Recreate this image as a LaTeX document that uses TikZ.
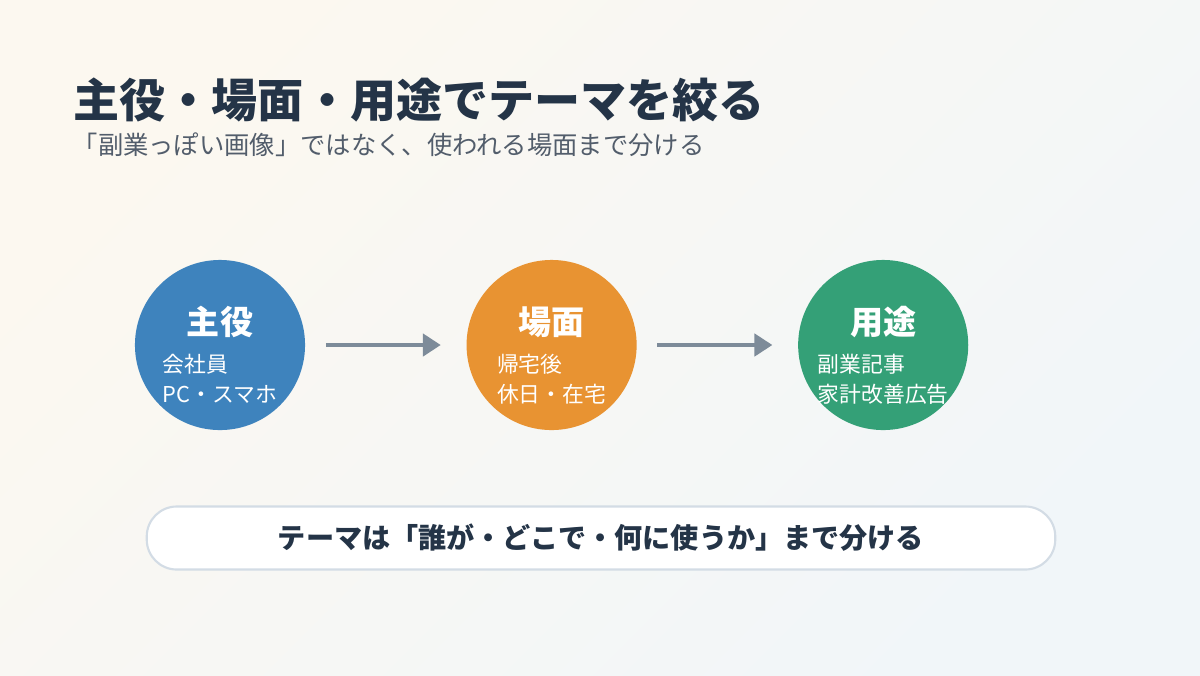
\documentclass[tikz,border=0pt]{standalone}
\usepackage{fontspec}
\usepackage{tikz}
\usetikzlibrary{positioning,arrows.meta}
\newfontfamily\jp{Noto Sans CJK JP}
\definecolor{navy}{HTML}{243447}
\definecolor{subgray}{HTML}{525D6B}
\definecolor{arrowgray}{HTML}{7D8B99}
\definecolor{bluec}{HTML}{3E83BD}
\definecolor{orangec}{HTML}{E89332}
\definecolor{greenc}{HTML}{34A077}
\definecolor{boxline}{HTML}{D3DCE5}
\definecolor{bgwarm}{HTML}{FCF8F0}
\definecolor{bgcool}{HTML}{F1F6F9}
\tikzset{
  circ/.style={circle,minimum size=1.7cm,inner sep=0pt},
  head/.style={text=white,font=\jp\bfseries\fontsize{9.4pt}{11pt}\selectfont,inner sep=0pt},
  items/.style={text=white,align=left,font=\jp\fontsize{6.2pt}{8.5pt}\selectfont,inner sep=0pt},
  flow/.style={-{Triangle[length=0.18cm,width=0.22cm]},line width=1.4pt,arrowgray}
}
\begin{document}
\begin{tikzpicture}[x=0.01cm,y=-0.01cm]
% background
\shade[left color=bgwarm,right color=bgcool,shading angle=45] (0,0) rectangle (1200,675);
\useasboundingbox (0,0) rectangle (1200,675);

% title and subtitle
\node[anchor=west,inner sep=0pt,text=navy,font=\jp\bfseries\fontsize{13.1pt}{15pt}\selectfont] (title) at (73,100) {主役・場面・用途でテーマを絞る};
\node[anchor=west,inner sep=0pt,text=subgray,font=\jp\fontsize{7.2pt}{8pt}\selectfont] (sub) at (72,145) {「副業っぽい画像」ではなく、使われる場面まで分ける};

% three circles
\node[circ,fill=bluec] (c1) at (220,345) {};
\node[circ,fill=orangec,right=1.6cm of c1] (c2) {};
\node[circ,fill=greenc,right=1.6cm of c2] (c3) {};

\node[head] (h1) at ([yshift=0.23cm]c1) {主役};
\node[head] (h2) at ([yshift=0.23cm]c2) {場面};
\node[head] (h3) at ([yshift=0.23cm]c3) {用途};

\node[items] (l1) at ([yshift=-0.34cm]c1) {会社員\\PC・スマホ};
\node[items] (l2) at ([yshift=-0.34cm]c2) {帰宅後\\休日・在宅};
\node[items] (l3) at ([yshift=-0.34cm]c3) {副業記事\\家計改善広告};

% arrows between circles
\draw[flow,shorten <=0.2cm,shorten >=0.25cm] (c1) -- (c2);
\draw[flow,shorten <=0.2cm,shorten >=0.25cm] (c2) -- (c3);

% summary box
\node[draw=boxline,line width=0.6pt,fill=white,rounded corners=0.3cm,minimum width=9.08cm,minimum height=0.63cm,text=navy,font=\jp\bfseries\fontsize{8pt}{9pt}\selectfont] (note) at (601,538) {テーマは「誰が・どこで・何に使うか」まで分ける};
\end{tikzpicture}
\end{document}
